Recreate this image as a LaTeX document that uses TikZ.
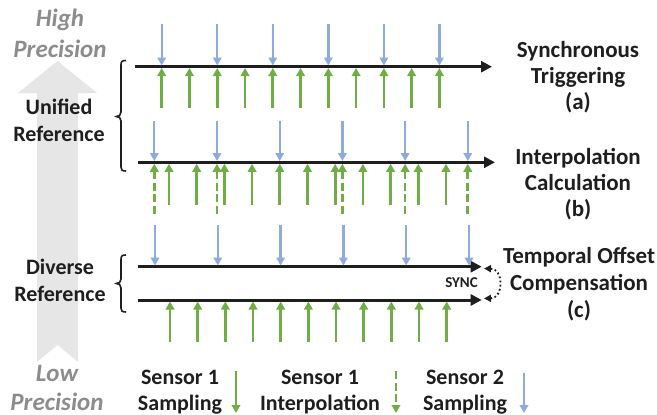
\documentclass[tikz,border=0pt]{standalone}
\usepackage{fontspec}
\setmainfont{Carlito}
\usetikzlibrary{arrows.meta}
\definecolor{sbblue}{HTML}{8FAADC}
\definecolor{sbgreen}{HTML}{70AD47}
\definecolor{axisblack}{HTML}{1E1E1E}
\definecolor{bandgray}{HTML}{E7E6E6}
\definecolor{precgray}{HTML}{8C8C8C}
\begin{document}
\begin{tikzpicture}[x=1pt,y=-1pt,
  lbl/.style={font=\fontsize{22}{27}\selectfont\bfseries, text=axisblack, anchor=base, inner sep=0pt},
  rlbl/.style={lbl, font=\fontsize{23}{27}\selectfont\bfseries},
  prec/.style={font=\fontsize{25}{30}\selectfont\bfseries\itshape, text=precgray, anchor=base, inner sep=0pt},
  axis/.style={draw=axisblack, line width=3pt, -{Triangle[length=11pt,width=11pt]}},
  s2/.style={draw=sbblue, line width=2.3pt, -{Triangle[length=8pt,width=8.5pt]}},
  s1/.style={draw=sbgreen, line width=2.7pt, -{Triangle[length=8pt,width=8.5pt]}},
  s1rev/.style={draw=sbgreen, line width=2.7pt, dash pattern=on 8pt off 3.5pt, {Triangle[length=8pt,width=8.5pt]}-},
  s1dash/.style={s1, dash pattern=on 8pt off 3.5pt},
  brace/.style={draw=axisblack, line width=1.6pt},
  syncarc/.style={draw=axisblack, line width=1.8pt, dash pattern=on 1.8pt off 2.4pt,
    {Triangle[length=7pt,width=7pt]}-{Triangle[length=7pt,width=7pt]}},
]
\useasboundingbox (0,0) rectangle (657,415);

% precision band
\fill[bandgray] (18,93) -- (57.5,61) -- (97,93) -- (78,93) -- (78,362)
  -- (57.5,345) -- (37,362) -- (37,93) -- cycle;
\node[prec] (hi1) at (60,27) {High};
\node[prec] (hi2) at (60,57) {Precision};
\node[prec] (lo1) at (57,381) {Low};
\node[prec] (lo2) at (57,410) {Precision};

% reference labels and braces
\node[lbl] (uni1) at (59,114) {Unified};
\node[lbl] (uni2) at (59,141) {Reference};
\node[lbl] (div1) at (60,274) {Diverse};
\node[lbl] (div2) at (60,301) {Reference};
\draw[brace] (126,60.5) .. controls (122,60.5) and (121,61.5) .. (121,65) -- (121,112)
  .. controls (121,115) and (119,116.5) .. (116.5,116.5)
  .. controls (119,116.5) and (121,118) .. (121,121) -- (121,167)
  .. controls (121,170) and (122,171) .. (126,171);
\draw[brace] (126,255) .. controls (122,255) and (121,256) .. (121,259.5) -- (121,279)
  .. controls (121,282) and (119,283.5) .. (116.5,283.5)
  .. controls (119,283.5) and (121,285) .. (121,288) -- (121,308)
  .. controls (121,311) and (122,312) .. (126,312);

% (a) synchronous triggering
\coordinate (a-start) at (135,66.7);
\coordinate (a-end) at (492,66.7);
\draw[axis] (a-start) -- (a-end);
\foreach \k in {0,...,5}{
  \coordinate (a-s2-\k-tail) at ({161.7+55.55*\k},24);
  \coordinate (a-s2-\k-tip) at ({161.7+55.55*\k},65.5);
  \draw[s2] (a-s2-\k-tail) -- (a-s2-\k-tip);
}
\foreach \k in {0,...,10}{
  \coordinate (a-s1-\k-tail) at ({161.7+27.775*\k},108);
  \coordinate (a-s1-\k-tip) at ({161.7+27.775*\k},68);
  \draw[s1] (a-s1-\k-tail) -- (a-s1-\k-tip);
}
\node[rlbl] (ta1) at (578,57) {Synchronous};
\node[rlbl] (ta2) at (578,83) {Triggering};
\node[rlbl] (ta3) at (578,109) {(a)};

% (b) interpolation calculation
\coordinate (b-start) at (138,162.3);
\coordinate (b-end) at (495,162.3);
\draw[axis] (b-start) -- (b-end);
\foreach \k in {0,...,5}{
  \coordinate (b-s2-\k-tail) at ({154.3+62.7*\k},121);
  \coordinate (b-s2-\k-tip) at ({154.3+62.7*\k},161);
  \draw[s2] (b-s2-\k-tail) -- (b-s2-\k-tip);
}
\foreach \k in {0,1,3,4,5}{
  \coordinate (b-s1i-\k-tip) at ({154.3+62.7*\k},163.8);
  \coordinate (b-s1i-\k-tail) at ({154.3+62.7*\k},214);
  \draw[s1rev] (b-s1i-\k-tip) -- (b-s1i-\k-tail);
}
\foreach \k in {0,...,10}{
  \coordinate (b-s1-\k-tail) at ({169+27.7*\k},205);
  \coordinate (b-s1-\k-tip) at ({169+27.7*\k},163.8);
  \draw[s1] (b-s1-\k-tail) -- (b-s1-\k-tip);
}
\node[rlbl] (tb1) at (578,164) {Interpolation};
\node[rlbl] (tb2) at (578,190) {Calculation};
\node[rlbl] (tb3) at (578,216) {(b)};

% (c) temporal offset compensation
\coordinate (c2-start) at (137.7,266.7);
\coordinate (c2-end) at (481.7,266.7);
\coordinate (c1-start) at (137.7,300);
\coordinate (c1-end) at (481.7,300);
\draw[axis] (c2-start) -- (c2-end);
\draw[axis] (c1-start) -- (c1-end);
\foreach \k in {0,...,5}{
  \coordinate (c-s2-\k-tail) at ({155+62.8*\k},225);
  \coordinate (c-s2-\k-tip) at ({155+62.8*\k},265.5);
  \draw[s2] (c-s2-\k-tail) -- (c-s2-\k-tip);
}
\foreach \k in {0,...,10}{
  \coordinate (c-s1-\k-tail) at ({170+27.67*\k},342);
  \coordinate (c-s1-\k-tip) at ({170+27.67*\k},301.5);
  \draw[s1] (c-s1-\k-tail) -- (c-s1-\k-tip);
}
\coordinate (sync-top) at (484,268.5);
\coordinate (sync-bot) at (484,298.5);
\draw[syncarc] (sync-top) .. controls (504,269) and (504,298) .. (sync-bot);
\node[font=\fontsize{15}{18}\selectfont\bfseries, text=axisblack, inner sep=0pt] (sync) at (461.5,283) {SYNC};
\node[rlbl] (tc1) at (579,263) {Temporal Offset};
\node[rlbl] (tc2) at (579,290) {Compensation};
\node[rlbl] (tc3) at (579,317) {(c)};

% legend
\node[lbl] (l1a) at (180,384) {Sensor 1};
\node[lbl] (l1b) at (180,410) {Sampling};
\coordinate (l1-tail) at (236,371);
\coordinate (l1-tip) at (236,413);
\draw[s1] (l1-tail) -- (l1-tip);
\node[lbl] (l2a) at (320,384) {Sensor 1};
\node[lbl] (l2b) at (320,410) {Interpolation};
\coordinate (l2-tail) at (396,371);
\coordinate (l2-tip) at (396,413);
\draw[s1dash] (l2-tail) -- (l2-tip);
\node[lbl] (l3a) at (465,384) {Sensor 2};
\node[lbl] (l3b) at (465,410) {Sampling};
\coordinate (l3-tail) at (524,373);
\coordinate (l3-tip) at (524,413);
\draw[s2] (l3-tail) -- (l3-tip);
\end{tikzpicture}
\end{document}
